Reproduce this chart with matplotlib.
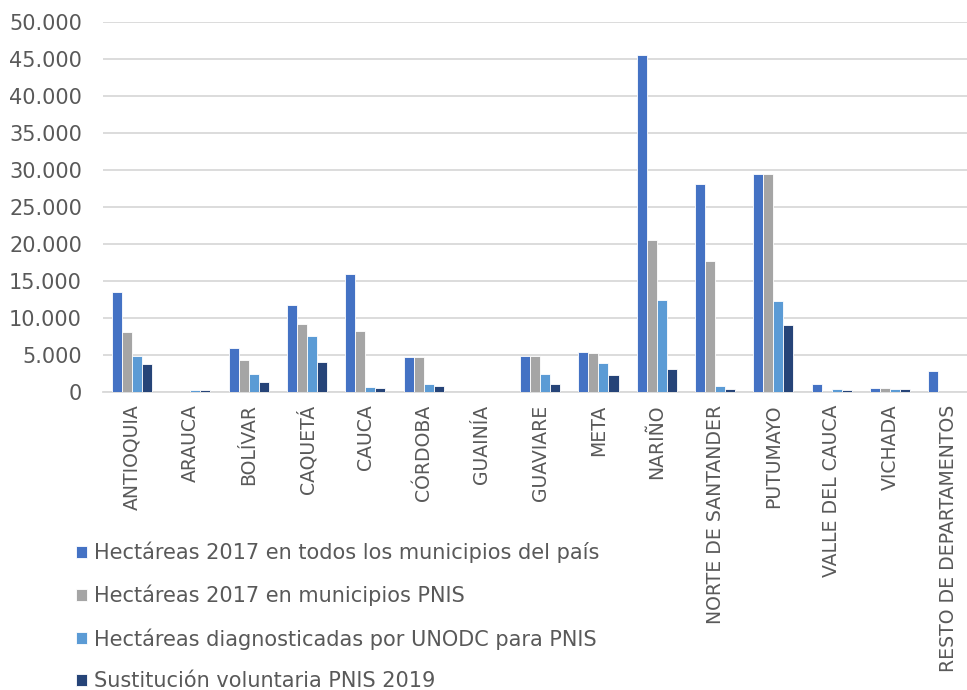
import matplotlib
matplotlib.use("Agg")
import matplotlib.pyplot as plt
import numpy as np

departamentos = ["ANTIOQUIA", "ARAUCA", "BOLÍVAR", "CAQUETÁ", "CAUCA", "CÓRDOBA",
                 "GUAINÍA", "GUAVIARE", "META", "NARIÑO", "NORTE DE SANTANDER",
                 "PUTUMAYO", "VALLE DEL CAUCA", "VICHADA", "RESTO DE DEPARTAMENTOS"]

ha_2017_pais = [13500, 0, 6000, 11700, 15900, 4700, 0, 4800, 5450, 45600, 28100,
                29500, 1120, 540, 2800]
ha_2017_pnis = [8150, 0, 4300, 9200, 8300, 4700, 0, 4800, 5270, 20600, 17700,
                29500, 0, 540, 0]
ha_unodc = [4900, 270, 2400, 7500, 680, 1080, 0, 2400, 3900, 12400, 800,
            12300, 360, 360, 0]
sustitucion_2019 = [3800, 270, 1400, 4100, 540, 800, 0, 1080, 2300, 3070, 360,
                    9050, 270, 380, 0]

series = [
    ("Hectáreas 2017 en todos los municipios del país", ha_2017_pais, "#4472C4"),
    ("Hectáreas 2017 en municipios PNIS", ha_2017_pnis, "#A5A5A5"),
    ("Hectáreas diagnosticadas por UNODC para PNIS", ha_unodc, "#5B9BD5"),
    ("Sustitución voluntaria PNIS 2019", sustitucion_2019, "#264478"),
]

fig = plt.figure(figsize=(9.67, 6.9), dpi=100)
# the plot area runs a little past the right edge of the image
ax = fig.add_axes([0.1064, 0.432, 0.9044, 0.536])

x = np.arange(len(departamentos))
w = 0.172
for i, (name, vals, color) in enumerate(series):
    ax.bar(x + (i - 1.5) * w, vals, width=w, color=color, label=name,
           edgecolor="white", linewidth=0.6, zorder=3)

ax.set_xlim(-0.5, len(departamentos) - 0.5)
ax.set_ylim(0, 50000)
ax.set_yticks(np.arange(0, 50001, 5000))
ax.set_yticklabels([f"{v:,}".replace(",", ".") for v in range(0, 50001, 5000)])
ax.set_xticks(x)
ax.set_xticklabels(departamentos, rotation=90)
ax.tick_params(axis="both", length=0, colors="#595959")
ax.tick_params(axis="x", labelsize=13.6, pad=9)
ax.tick_params(axis="y", labelsize=15, pad=15)
ax.grid(axis="y", color="#D9D9D9", linewidth=1.3, zorder=0)
for s in ["top", "right", "left"]:
    ax.spines[s].set_visible(False)
ax.spines["bottom"].set_color("#D9D9D9")
ax.spines["bottom"].set_linewidth(1.3)

fig.legend(loc="upper left", bbox_to_anchor=(0.07, 0.227), frameon=False,
           fontsize=15, labelcolor="#595959", handlelength=0.55, handleheight=0.55,
           handletextpad=0.3, labelspacing=1.04, borderaxespad=0)

fig.savefig("out.png", dpi=100)
